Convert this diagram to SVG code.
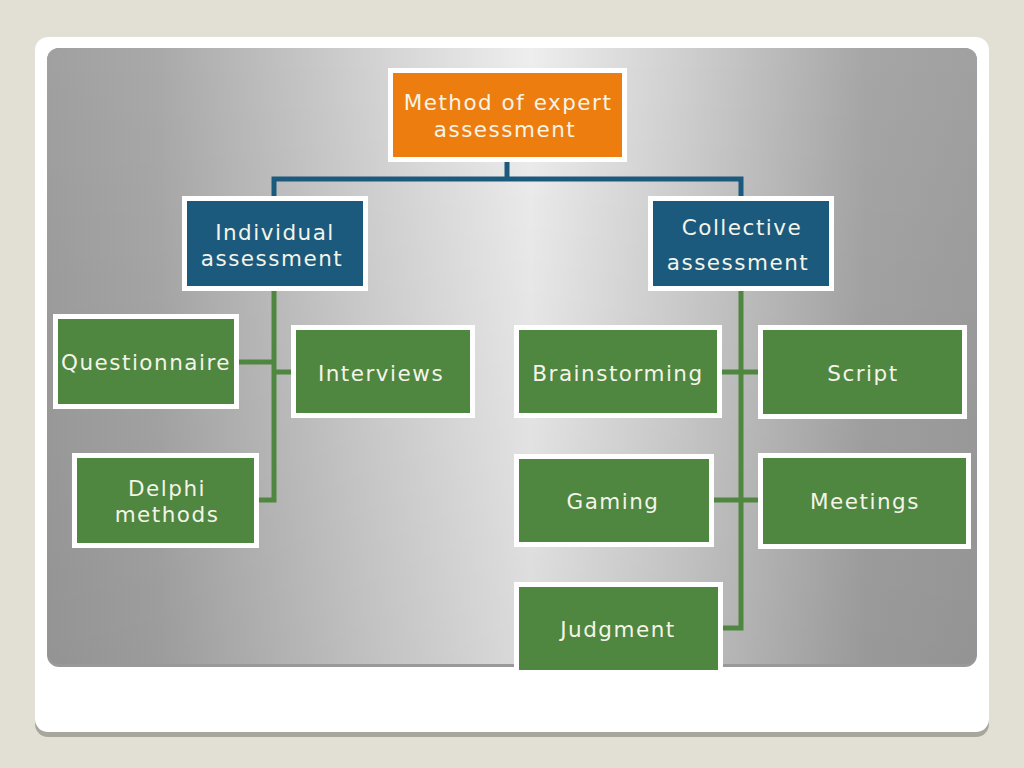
<svg xmlns="http://www.w3.org/2000/svg" width="1024" height="768" viewBox="0 0 1024 768">
<defs>
<linearGradient id="panel" x1="0" y1="0" x2="1" y2="0">
<stop offset="0" stop-color="#a0a0a0"/>
<stop offset="0.12" stop-color="#a9a9a9"/>
<stop offset="0.35" stop-color="#d2d2d2"/>
<stop offset="0.52" stop-color="#eeeeee"/>
<stop offset="0.68" stop-color="#d0d0d0"/>
<stop offset="0.88" stop-color="#a6a6a6"/>
<stop offset="1" stop-color="#a0a0a0"/>
</linearGradient>
<linearGradient id="pbottom" x1="0" y1="0" x2="0" y2="1">
<stop offset="0" stop-color="#000" stop-opacity="0"/>
<stop offset="1" stop-color="#000" stop-opacity="0.08"/>
</linearGradient>
<style>
.frame{stroke:#ffffff;stroke-width:5}
.orange{fill:#ee7d0f}
.blue{fill:#1c5a7d}
.green{fill:#4f8640}
.t{font-family:"DejaVu Sans",Verdana,sans-serif;font-size:21.5px;letter-spacing:1.5px;fill:#f4f4e8;text-anchor:middle}
.cb{fill:none;stroke:#1c5a7d;stroke-width:5}
.cg{fill:none;stroke:#4f8640;stroke-width:5}
</style>
</defs>
<rect x="0" y="0" width="1024" height="768" fill="#e2dfd4"/>
<rect x="35" y="40" width="954" height="697" rx="13" fill="#a8a79e"/>
<rect x="35" y="37" width="954" height="695" rx="13" fill="#ffffff"/>
<rect x="47" y="48" width="930" height="619" rx="12" fill="#999999"/>
<rect x="47" y="48" width="930" height="616" rx="12" fill="url(#panel)"/>
<rect x="47" y="48" width="930" height="616" rx="12" fill="url(#pbottom)"/>

<g id="connectors">
<path class="cb" d="M507 159 V179 M274 198 V179 H741 V198"/>
<path class="cg" d="M274 288 V500 H256 M236 362 H274 M274 372 H293"/>
<path class="cg" d="M741 288 V628 H720 M719 372 H760 M711 500 H760"/>
</g>

<g id="n-method">
<rect class="frame orange" x="390.5" y="70.5" width="234" height="89"/>
<text class="t" x="508" y="110">Method of expert</text>
<text class="t" x="505" y="137">assessment</text>
</g>
<g id="n-individual">
<rect class="frame blue" x="184.5" y="198.5" width="181" height="90"/>
<text class="t" x="275" y="240">Individual</text>
<text class="t" x="272" y="266">assessment</text>
</g>
<g id="n-collective">
<rect class="frame blue" x="650.5" y="198.5" width="181" height="90"/>
<text class="t" x="742" y="235">Collective</text>
<text class="t" x="738" y="270">assessment</text>
</g>
<g id="n-questionnaire">
<rect class="frame green" x="55.5" y="316.5" width="181" height="90"/>
<text class="t" x="146" y="370">Questionnaire</text>
</g>
<g id="n-interviews">
<rect class="frame green" x="293.5" y="327.5" width="179" height="88"/>
<text class="t" x="381" y="381">Interviews</text>
</g>
<g id="n-delphi">
<rect class="frame green" x="74.5" y="455.5" width="182" height="90"/>
<text class="t" x="167" y="496">Delphi</text>
<text class="t" x="167" y="522">methods</text>
</g>
<g id="n-brainstorming">
<rect class="frame green" x="516.5" y="327.5" width="203" height="88"/>
<text class="t" x="618" y="381">Brainstorming</text>
</g>
<g id="n-script">
<rect class="frame green" x="760.5" y="327.5" width="204" height="89"/>
<text class="t" x="863" y="381">Script</text>
</g>
<g id="n-gaming">
<rect class="frame green" x="516.5" y="456.5" width="195" height="88"/>
<text class="t" x="613" y="509">Gaming</text>
</g>
<g id="n-meetings">
<rect class="frame green" x="760.5" y="455.5" width="208" height="91"/>
<text class="t" x="865" y="509">Meetings</text>
</g>
<g id="n-judgment">
<rect class="frame green" x="516.5" y="584.5" width="204" height="88"/>
<text class="t" x="618" y="637">Judgment</text>
</g>
</svg>
